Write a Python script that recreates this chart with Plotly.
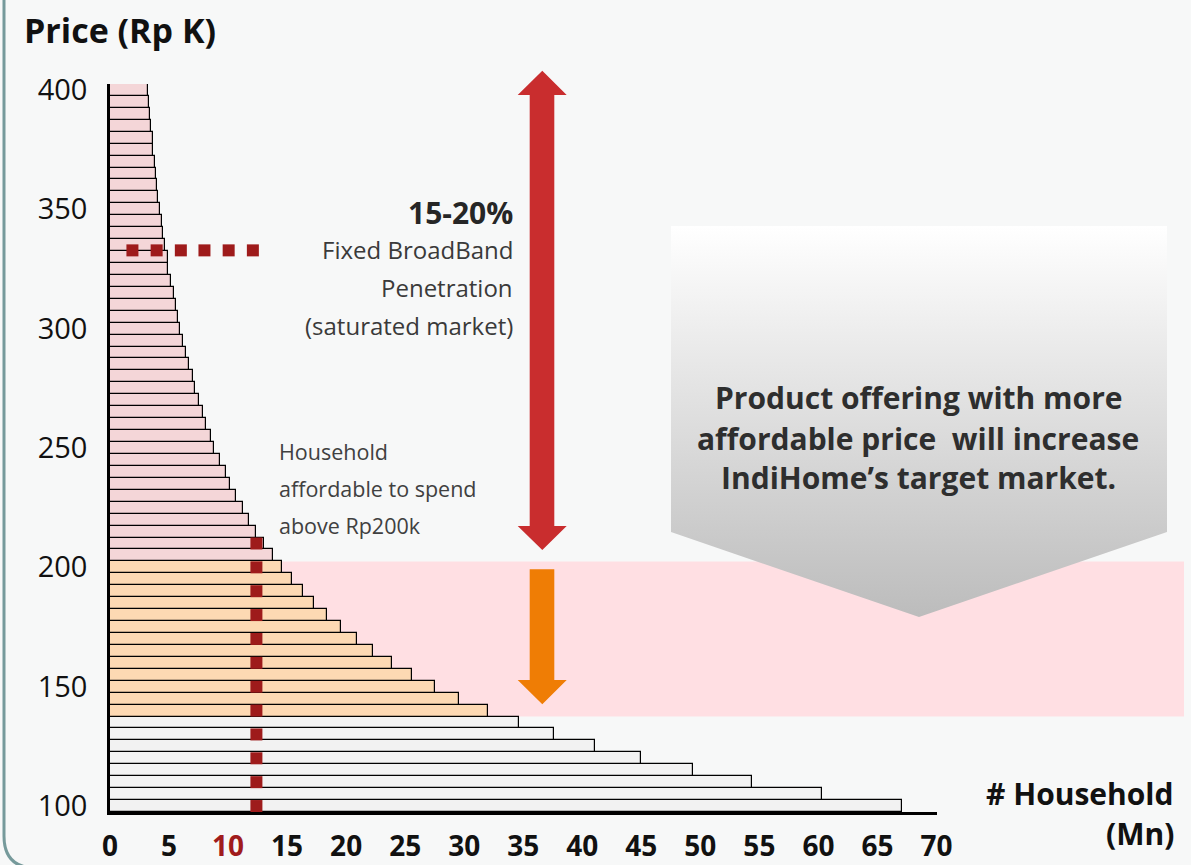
import plotly.graph_objects as go

W, H = 1191, 865

# ---------------- data ----------------
PRICE = [100, 105, 110, 115, 120, 125, 130, 135, 140, 145,
         150, 155, 160, 165, 170, 175, 180, 185, 190, 195,
         200, 205, 210, 215, 220, 225, 230, 235, 240, 245,
         250, 255, 260, 265, 270, 275, 280, 285, 290, 295,
         300, 305, 310, 315, 320, 325, 330, 335, 340, 345,
         350, 355, 360, 365, 370, 375, 380, 385, 390, 395, 400]
HOUSEHOLDS = [67.1, 60.3, 54.4, 49.35, 44.95, 41.05, 37.6, 34.6, 32.0, 29.6,
              27.5, 25.6, 23.85, 22.3, 20.9, 19.6, 18.4, 17.3, 16.35, 15.4,
              14.6, 13.8, 13.05, 12.4, 11.8, 11.3, 10.7, 10.15, 9.8, 9.3,
              8.85, 8.55, 8.15, 7.85, 7.5, 7.2, 7.0, 6.65, 6.4, 6.2,
              5.95, 5.8, 5.6, 5.4, 5.2, 4.95, 4.9, 4.7, 4.5, 4.4,
              4.25, 4.1, 4.0, 3.9, 3.8, 3.65, 3.6, 3.5, 3.4, 3.3, 3.2]
TARGET_LOW, TARGET_HIGH = 140, 200          # newly addressable price tier
PRICE_STEP = 5

X_TICKS = [0, 5, 10, 15, 20, 25, 30, 35, 40, 45, 50, 55, 60, 65, 70]
X_HIGHLIGHT = 10
Y_TICKS = [100, 150, 200, 250, 300, 350, 400]

DOT_V_X = 12.4
DOT_V_PRICES = [100, 110, 120, 130, 140, 150, 160, 170, 180, 190, 200, 210]
DOT_H_PRICE = 332.8
DOT_H_X = [1.9, 3.95, 6.0, 8.0, 10.05, 12.1]

# ---------------- styles ----------------
BG = "#f7f8f8"
C_PINK = "#f4d6d8"
C_ORANGE = "#fdd9b3"
C_GRAY = "#f2f2f2"
C_BAND = "#ffdfe3"
C_DOT = "#9e1b1b"
C_RED = "#c92d2e"
C_ORANGE_ARROW = "#ef7d05"
FONT = "Open Sans"

# main plot area in pixels
PL, PR, PT, PB = 110, 936.5, 84, 812


def px(x):
    return x / W


def py(y):
    return 1 - y / H


bar_colors = []
for p in PRICE:
    if p < TARGET_LOW:
        bar_colors.append(C_GRAY)
    elif p <= TARGET_HIGH:
        bar_colors.append(C_ORANGE)
    else:
        bar_colors.append(C_PINK)

fig = go.Figure()

fig.add_trace(go.Bar(
    x=HOUSEHOLDS, y=PRICE, orientation="h", width=PRICE_STEP,
    marker=dict(color=bar_colors, line=dict(color="#000000", width=1.2)),
    hoverinfo="skip", showlegend=False,
))

fig.add_trace(go.Scatter(
    x=[DOT_V_X] * len(DOT_V_PRICES), y=DOT_V_PRICES, mode="markers",
    marker=dict(symbol="square", size=12, color=C_DOT, line=dict(width=0)),
    hoverinfo="skip", showlegend=False, cliponaxis=False,
))
fig.add_trace(go.Scatter(
    x=DOT_H_X, y=[DOT_H_PRICE] * len(DOT_H_X), mode="markers",
    marker=dict(symbol="square", size=12, color=C_DOT, line=dict(width=0)),
    hoverinfo="skip", showlegend=False, cliponaxis=False,
))

# gradient chevron on a full-figure pixel overlay subplot
chev_x = [671, 1167, 1167, 919, 671, 671]
chev_y = [226, 226, 532, 617, 532, 226]
fig.add_trace(go.Scatter(
    x=chev_x, y=chev_y, xaxis="x2", yaxis="y2", mode="lines",
    fill="toself", line=dict(width=0, color="rgba(0,0,0,0)"),
    fillgradient=dict(type="vertical", colorscale=[[0, "#ffffff"], [1, "#bcbcbc"]],
                      start=226, stop=617),
    hoverinfo="skip", showlegend=False,
))

x_ticktext = []
for t in X_TICKS:
    if t == X_HIGHLIGHT:
        x_ticktext.append(f"<b><span style='color:#a01c1c'>{t}</span></b>")
    else:
        x_ticktext.append(f"<b>{t}</b>")

shapes = []
# pink target band (behind bars)
shapes.append(dict(type="rect", xref="paper", yref="y",
                   x0=px(PL), x1=px(1184),
                   y0=TARGET_LOW - PRICE_STEP / 2, y1=TARGET_HIGH + PRICE_STEP / 2,
                   fillcolor=C_BAND, line=dict(width=0), layer="below"))


def path_from(points):
    s = "M " + " L ".join(f"{px(x):.5f},{py(y):.5f}" for x, y in points) + " Z"
    return s


red_arrow = [(542.3, 70.7), (566.7, 95), (554.3, 95), (554.3, 526), (566.7, 526),
             (542.3, 550), (517.7, 526), (529.7, 526), (529.7, 95), (517.7, 95)]
orange_arrow = [(529.7, 569.3), (554.3, 569.3), (554.3, 680), (566.7, 680),
                (542.3, 704.3), (517.7, 680), (529.7, 680)]
shapes.append(dict(type="path", xref="paper", yref="paper", path=path_from(red_arrow),
                   fillcolor=C_RED, line=dict(width=0)))
shapes.append(dict(type="path", xref="paper", yref="paper", path=path_from(orange_arrow),
                   fillcolor=C_ORANGE_ARROW, line=dict(width=0)))

# frame border (left edge with rounded bottom corner)
frame = (f"M {px(4):.5f},{py(0):.5f} L {px(4):.5f},{py(836):.5f} "
         f"Q {px(4):.5f},{py(868):.5f} {px(36):.5f},{py(868):.5f} L {px(1191):.5f},{py(868):.5f}")
shapes.append(dict(type="path", xref="paper", yref="paper", path=frame,
                   line=dict(color="#769a9b", width=3)))

annotations = []


def note(text, x, y, size, color="#111111", xanchor="center", bold=False):
    t = f"<b>{text}</b>" if bold else text
    annotations.append(dict(text=t, x=px(x), y=py(y), xref="paper", yref="paper",
                            xanchor=xanchor, yanchor="middle", showarrow=False,
                            font=dict(family=FONT, size=size, color=color)))


note("Price (Rp K)", 22, 30, 34, "#111111", "left", True)
note("15-20%", 515, 213, 30, "#262626", "right", True)
note("Fixed BroadBand", 515, 249, 24, "#3a3a3a", "right")
note("Penetration", 515, 287, 24, "#3a3a3a", "right")
note("(saturated market)", 515, 326, 24, "#3a3a3a", "right")
note("Household", 277, 451, 21.5, "#404040", "left")
note("affordable to spend", 277, 488, 21.5, "#404040", "left")
note("above Rp200k", 277, 525, 21.5, "#404040", "left")
note("Product offering with more", 918, 397, 30, "#2e2e2e", "center", True)
note("affordable price  will increase", 918, 438, 30, "#2e2e2e", "center", True)
note("IndiHome\u2019s target market.", 918, 478, 30, "#2e2e2e", "center", True)
note("# Household", 1176, 793, 30, "#111111", "right", True)
note("(Mn)", 1176, 833, 30, "#111111", "right", True)

fig.update_layout(
    width=W, height=H, autosize=False,
    margin=dict(l=0, r=0, t=0, b=0, pad=0, autoexpand=False),
    paper_bgcolor=BG, plot_bgcolor="rgba(0,0,0,0)",
    bargap=0, showlegend=False,
    shapes=shapes, annotations=annotations,
    xaxis=dict(domain=[px(PL), px(PR)], range=[0, 70], tickmode="array", automargin=False,
               tickvals=X_TICKS, ticktext=x_ticktext, showgrid=False, zeroline=False,
               showline=True, linecolor="#000000", linewidth=2.5,
               ticks="outside", ticklen=8, tickcolor="rgba(0,0,0,0)",
               tickfont=dict(family=FONT, size=28, color="#111111"), fixedrange=True),
    yaxis=dict(domain=[py(PB), py(PT)], range=[PRICE[0] - PRICE_STEP / 2, PRICE[-1] + PRICE_STEP / 2],
               tickmode="array", tickvals=Y_TICKS, showgrid=False, zeroline=False, automargin=False,
               showline=True, linecolor="#000000", linewidth=2.5,
               ticks="outside", ticklen=14, tickcolor="rgba(0,0,0,0)",
               tickfont=dict(family=FONT, size=29, color="#111111"), fixedrange=True),
    xaxis2=dict(domain=[0, 1], range=[0, W], visible=False, anchor="y2", fixedrange=True,
                automargin=False),
    yaxis2=dict(domain=[0, 1], range=[H, 0], visible=False, anchor="x2", fixedrange=True,
                automargin=False),
)

fig.write_html("out.html", config={"responsive": False, "displayModeBar": False},
               post_script="document.body.style.margin='0px';document.body.style.overflow='hidden';")
